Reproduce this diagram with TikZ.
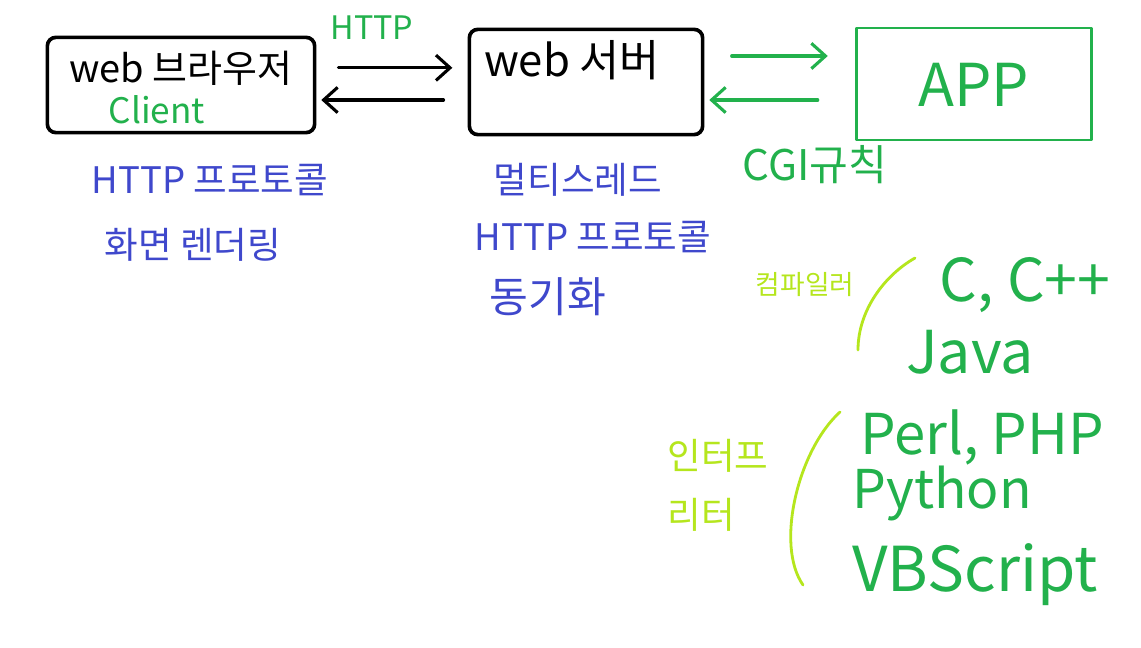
\documentclass[tikz,border=0pt]{standalone}
\usepackage{fontspec}
\setmainfont{Noto Sans CJK KR}
\usepackage{tikz}
\usetikzlibrary{arrows.meta, positioning}
\definecolor{cInk}{HTML}{000000}
\definecolor{cGreen}{HTML}{22B14C}
\definecolor{cBlue}{HTML}{3F48CC}
\definecolor{cLime}{HTML}{B5E61D}
\tikzset{
  hbox/.style={
    rectangle, rounded corners=#1, line width=2.6pt, line join=round
  },
  hbox/.default=6pt,
  blkbox/.style={hbox, draw=cInk},
  grnbox/.style={hbox=0pt, draw=cGreen, line width=2pt},
  arrow/.style={-{Straight Barb[length=10pt, width=18pt, line width=#1]},
    line width=#1, line cap=round},
  arrow/.default=2.2pt,
  txt/.style={inner sep=0pt, font=\fontsize{#1}{#1}\selectfont},
  txt/.default=26pt,
  gtxt/.style={txt=#1, text=cGreen},
  btxt/.style={txt=#1, text=cBlue},
  ltxt/.style={txt=#1, text=cLime},
  brace/.style={draw=cLime, line width=2pt, line cap=round},
}
\begin{document}
\begin{tikzpicture}[x=0.025cm, y=-0.025cm]
  \fill[white] (0,0) rectangle (1141,648);
  \useasboundingbox (0,0) rectangle (1141,648);

  % three boxes
  \node[blkbox, minimum width=6.68cm, minimum height=2.38cm] (browser) at (181,85) {};
  \node[blkbox, minimum width=5.83cm, minimum height=2.63cm] (server)  at (586,82) {};
  \node[grnbox, minimum width=5.88cm, minimum height=2.8cm]  (app)     at (974,84) {};

  % box texts
  \node[txt=27pt] (browsertxt) at (181,68) {web 브라우저};
  \node[gtxt=25pt] (client) at (157,110) {Client};
  \node[txt=31pt] (servertxt) at (572,60) {web 서버};
  \node[gtxt=42pt] (apptxt) at (974,85) {APP};

  % browser <-> server
  \draw[arrow, shorten <=0.55cm, shorten >=0.38cm]
    ([yshift=0.43cm]browser.east) -- ([yshift=0.43cm]browser.east -| server.west);
  \draw[arrow, shorten <=0.6cm, shorten >=0.12cm]
    ([yshift=-0.45cm]server.west) -- ([yshift=-0.45cm]server.west -| browser.east);
  \node[gtxt=23pt] (http) at (372,28) {HTTP};

  % server <-> app
  \draw[arrow, draw=cGreen, shorten <=0.68cm, shorten >=0.68cm]
    ([yshift=0.65cm]server.east) -- ([yshift=0.65cm]server.east -| app.west);
  \draw[arrow, draw=cGreen, shorten <=0.93cm, shorten >=0.12cm]
    ([yshift=-0.4cm]app.west) -- ([yshift=-0.4cm]app.west -| server.east);
  \node[gtxt=30pt] (cgi) at (815,165) {CGI규칙};

  % notes under the boxes
  \node[btxt] (proto1) at (210,180) {HTTP 프로토콜};
  \node[btxt] (render) at (193,245) {화면 렌더링};
  \node[btxt] (thread) at (578,180) {멀티스레드};
  \node[btxt] (proto2) at (593,237) {HTTP 프로토콜};
  \node[btxt=30pt] (sync) at (548,297) {동기화};

  % compiler languages
  \node[ltxt=19pt] (compiler) at (805,285) {컴파일러};
  \draw[brace] (915,258) .. controls (885,275) and (858,310) .. (858,350);
  \node[gtxt=42pt] (clang) at (1025,285) {C, C++};
  \node[gtxt=42pt] (java) at (970,352) {Java};

  % interpreter languages
  \node[ltxt, align=left, font=\fontsize{26pt}{42pt}\selectfont] (interp) at (718,485) {인터프\\리터};
  \draw[brace] (840,412) .. controls (798,450) and (775,545) .. (803,585);
  \node[gtxt=40pt] (perl) at (982,437) {Perl, PHP};
  \node[gtxt=38pt] (python) at (942,493) {Python};
  \node[gtxt=44pt] (vbs) at (975,575) {VBScript};
\end{tikzpicture}
\end{document}
